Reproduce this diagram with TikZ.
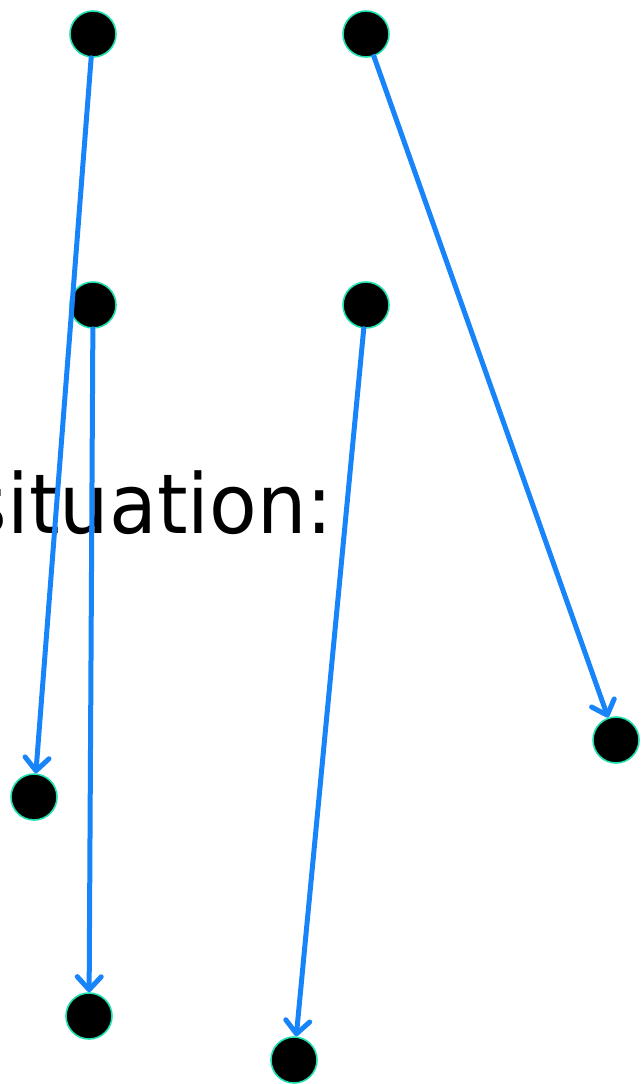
\documentclass[tikz,border=0pt]{standalone}
\usepackage{fontspec}
\newfontfamily\txtfont{DejaVu Sans}
\usetikzlibrary{arrows.meta}
\definecolor{linkblue}{RGB}{24,132,250}
\definecolor{rimcol}{RGB}{30,225,175}
\tikzset{
  dot/.style={circle,fill=black,draw=rimcol,line width=1.6pt,minimum size=46pt,inner sep=0pt},
  link/.style={draw=linkblue,line width=5pt,line cap=round,
    -{Straight Barb[length=13pt,width=24pt,line cap=round,line join=round]}}
}
\begin{document}
\begin{tikzpicture}[x=1pt,y=-1pt]
\useasboundingbox (0,0) rectangle (640,1084);
\node[anchor=base east,inner sep=0pt,yscale=1.06,font=\txtfont\fontsize{78}{84}\selectfont] (t) at (333,533) {situation:};
\node[dot] (a) at (93,34) {};
\node[dot] (b) at (366,34) {};
\node[dot] (c) at (93,305) {};
\node[dot] (d) at (366,305) {};
\node[dot] (e) at (34,797) {};
\node[dot] (f) at (89,1016) {};
\node[dot] (g) at (294,1060) {};
\node[dot] (h) at (616,740) {};
\draw[link] (a) -- (e);
\draw[link] (b) -- (h);
\draw[link] (c) -- (f);
\draw[link] (d) -- (g);
\end{tikzpicture}
\end{document}
